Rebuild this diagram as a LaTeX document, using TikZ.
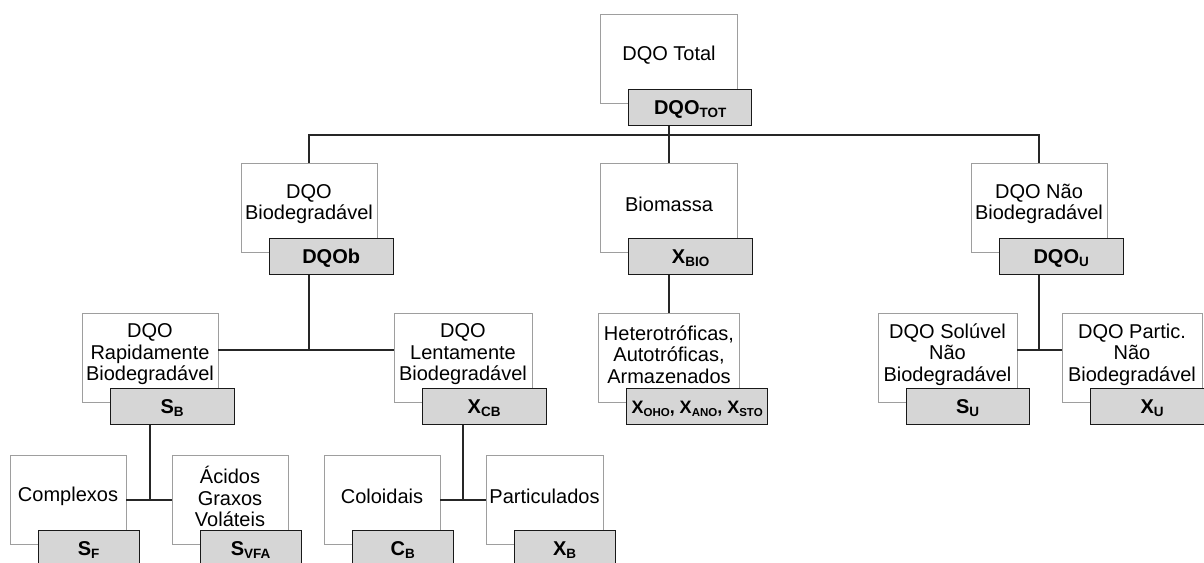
\documentclass[tikz,border=0pt]{standalone}
\usepackage{fontspec}
\setmainfont{Liberation Sans}
\usetikzlibrary{calc}

% subscript used in the grey symbol boxes
\newcommand\sbs[1]{\raisebox{-3pt}{\fontsize{13.5}{14}\selectfont\bfseries #1}}

\begin{document}
\begin{tikzpicture}[x=1pt,y=-1pt,
  wbox/.style={draw=black!38, line width=0.9pt, fill=white, minimum height=89pt, inner sep=0pt},
  wtext/.style={align=center, inner sep=0pt, font=\fontsize{20}{21.5}\selectfont},
  gbox/.style={draw=black!90, line width=1.2pt, fill=black!16, minimum height=36pt, inner sep=0pt,
               text height=14.3pt, text depth=0pt, font=\fontsize{20}{22}\selectfont\bfseries},
  conn/.style={draw=black!85, line width=1.2pt}]

\useasboundingbox (0,0) rectangle (1204,562);
\clip (0,0) rectangle (1204,562);

% #1 name, #2 centre of the white box, #3 description, #4 symbol, #5 white width, #6 grey width
\newcommand\cell[6]{%
  \node[wbox, minimum width=#5] (w#1) at (#2) {};
  \node[wtext] (t#1) at ($(w#1.center)+(0,-3.5)$) {#3};
  \node[gbox, minimum width=#6, anchor=north west] (g#1) at ($(w#1.north west)+(28,75)$) {#4};
}

% level 0
\cell{Tot}{669,58.5}{DQO Total}{DQO\sbs{TOT}}{137pt}{123pt}

% level 1
\cell{Bio}{309,207.5}{DQO\\Biodegradável}{DQOb}{136pt}{124pt}
\cell{Biom}{669,207.5}{Biomassa}{X\sbs{BIO}}{137pt}{124pt}
\cell{NB}{1039,207.5}{DQO Não\\Biodegradável}{DQO\sbs{U}}{136pt}{124pt}

% level 2
\cell{Rap}{150,358}{DQO\\Rapidamente\\Biodegradável}{S\sbs{B}}{136pt}{124pt}
\cell{Lent}{463,358}{DQO\\Lentamente\\Biodegradável}{X\sbs{CB}}{138pt}{124pt}
\cell{Het}{669,358}{Heterotróficas,\\Autotróficas,\\Armazenados}%
  {\fontsize{18}{20}\selectfont X\raisebox{-3pt}{\fontsize{11.5}{12}\selectfont OHO}, X\raisebox{-3pt}{\fontsize{11.5}{12}\selectfont ANO}, X\raisebox{-3pt}{\fontsize{11.5}{12}\selectfont STO}}{141pt}{141pt}
\cell{Sol}{947.5,358}{DQO Solúvel\\Não\\Biodegradável}{S\sbs{U}}{139pt}{123pt}
\cell{Par}{1132,358}{DQO Partic.\\Não\\Biodegradável}{X\sbs{U}}{140pt}{124pt}

% level 3
\cell{Comp}{68,500}{Complexos}{S\sbs{F}}{116pt}{101pt}
\cell{Acid}{230,500}{Ácidos\\Graxos\\Voláteis}{S\sbs{VFA}}{116pt}{101pt}
\cell{Col}{382,500}{Coloidais}{C\sbs{B}}{116pt}{101pt}
\cell{Part}{544.5,500}{Particulados}{X\sbs{B}}{117pt}{101pt}

% connectors
\coordinate (bus1) at (0,135);
\coordinate (bus2) at (0,350);
\draw[conn] (wTot.center |- gTot.south) -- (wTot.center |- bus1);
\draw[conn] (wBio.north) -- (wBio.north |- bus1) -- (wNB.north |- bus1) -- (wNB.north);
\draw[conn] (wBiom.north) -- (wBiom.north |- bus1);

\draw[conn] (wBio.center |- gBio.south) -- (wBio.center |- bus2);
\draw[conn] (wRap.east |- bus2) -- (wLent.west |- bus2);
\draw[conn] (wBiom.center |- gBiom.south) -- (wHet.north);
\draw[conn] (wNB.center |- gNB.south) -- (wNB.center |- bus2);
\draw[conn] (wSol.east |- bus2) -- (wPar.west |- bus2);

\draw[conn] (wRap.center |- gRap.south) -- (wRap.center |- wComp.east);
\draw[conn] (wComp.east) -- (wAcid.west);
\draw[conn] (wLent.center |- gLent.south) -- (wLent.center |- wCol.east);
\draw[conn] (wCol.east) -- (wPart.west);

\end{tikzpicture}
\end{document}
